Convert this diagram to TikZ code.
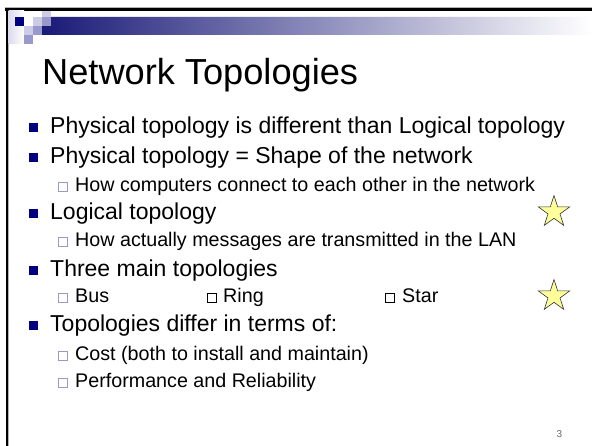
\documentclass[tikz,border=0pt]{standalone}
\usepackage{fontspec}
\setmainfont{Liberation Sans}
\usepackage{xcolor}
\usepackage{tikz}
\usetikzlibrary{positioning,shapes.geometric}

\definecolor{deepnavy}{RGB}{0,0,128}
\definecolor{palelav}{RGB}{204,204,230}
\definecolor{midlav}{RGB}{153,153,204}
\definecolor{bandnavy}{RGB}{26,26,120}
\definecolor{starfill}{RGB}{255,255,153}

\begin{document}
\begin{tikzpicture}[x=1pt,y=-1pt,
  item/.style={anchor=base west,inner sep=0pt,font=\fontsize{23}{27}\selectfont},
  subitem/.style={anchor=base west,inner sep=0pt,font=\fontsize{19.7}{23}\selectfont},
  subbox/.style={draw=midlav,line width=0.8pt},
  starmark/.style={star,star points=5,star point ratio=2.618,minimum size=33pt,
    inner sep=0pt,draw=black!80,line width=0.6pt,fill=starfill}]
  \useasboundingbox (0,0) rectangle (592,446);
  \fill[white] (0,0) rectangle (592,446);
  % frame lines
  \draw[gray!60,line width=1pt] (5,7.8) -- (592,7.8);
  \draw[gray!60,line width=1pt] (8.7,9) -- (8.7,446);
  \draw[black,line width=2.5pt] (5,9.7) -- (592,9.7);
  \draw[black,line width=2.3pt] (7.2,8.5) -- (7.2,446);
  % header band and little squares
  \shade[left color=palelav!70,right color=white] (8.5,11) rectangle (24,44);
  \shade[left color=bandnavy,right color=white]
    (51,17) -- (592,17) -- (592,35) -- (42,35) -- (42,26) -- (51,26) -- cycle;
  \fill[deepnavy] (15,17) rectangle (24,26);
  \fill[white] (24,17) rectangle (33,26);
  \fill[palelav] (42,11) rectangle (51,17);
  \fill[palelav] (33,17) rectangle (42,26);
  \fill[palelav] (24,26) rectangle (33,35);
  \fill[midlav] (42,17) rectangle (51,26);
  \fill[midlav] (33,26) rectangle (42,35);
  \fill[midlav] (24,35) rectangle (33,44);

  \node[anchor=base west,inner sep=0pt,font=\fontsize{36.2}{42}\selectfont] (title) at (42,85) {Network Topologies};

  % first level
  \fill[deepnavy] (29,123) rectangle (38,132);
  \node[item] (phys) at (50,134) {Physical topology is different than Logical topology};
  \fill[deepnavy] (29,153) rectangle (38,162);
  \node[item] (shape) at (50,164) {Physical topology = Shape of the network};
  \draw[subbox] (58.5,182.5) rectangle (67.5,191.5);
  \node[subitem] (how) at (75,192) {How computers connect to each other in the network};
  \fill[deepnavy] (29,209) rectangle (38,218);
  \node[item] (logic) at (50,220) {Logical topology};
  \draw[subbox] (58.5,237.5) rectangle (67.5,246.5);
  \node[subitem] (lan) at (75,247) {How actually messages are transmitted in the LAN};
  \fill[deepnavy] (29,266) rectangle (38,275);
  \node[item] (three) at (50,277) {Three main topologies};
  \draw[subbox] (58.5,293.5) rectangle (67.5,302.5);
  \node[subitem] (bus) at (75,303) {Bus};
  \draw[black,line width=0.8pt] (207.5,293.5) rectangle (216.5,302.5);
  \node[subitem] (ring) at (223,303) {Ring};
  \draw[black,line width=0.8pt] (385.5,293.5) rectangle (394.5,302.5);
  \node[subitem] (startopo) at (402,303) {Star};
  \fill[deepnavy] (29,321) rectangle (38,330);
  \node[item] (differ) at (50,332) {Topologies differ in terms of:};
  \draw[subbox] (58.5,351.5) rectangle (67.5,360.5);
  \node[subitem] (cost) at (75,361) {Cost (both to install and maintain)};
  \draw[subbox] (58.5,378.5) rectangle (67.5,387.5);
  \node[subitem] (perf) at (75,388) {Performance and Reliability};

  % stars
  \node[starmark] (star1) at (554,212) {};
  \node[starmark] (star2) at (554,296) {};

  \node[anchor=base,inner sep=0pt,font=\fontsize{10}{12}\selectfont,text=black!60] (pagenum) at (559.5,437) {3};
\end{tikzpicture}
\end{document}
